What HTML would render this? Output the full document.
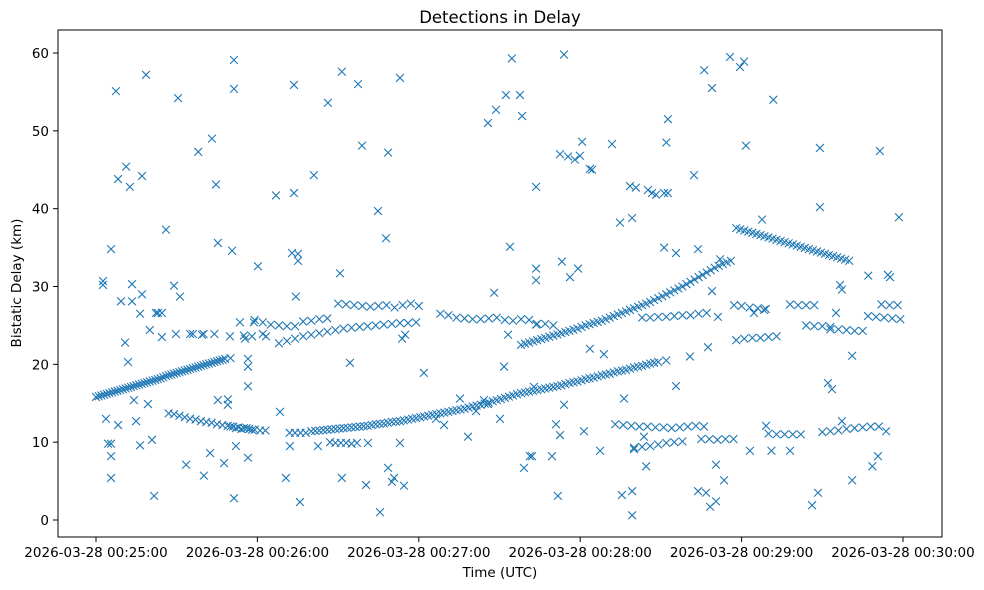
<!DOCTYPE html>
<html><head><meta charset="utf-8"><title>Detections in Delay</title>
<style>
html,body{margin:0;padding:0;background:#fff;}
svg{display:block;font-family:"DejaVu Sans","Liberation Sans",sans-serif;}
</style></head>
<body>
<svg id="chart" width="984" height="590" viewBox="0 0 984 590" xmlns="http://www.w3.org/2000/svg">
<rect x="0" y="0" width="984" height="590" fill="#fff"/>
<text x="500" y="23" font-size="16.5" text-anchor="middle" fill="#000">Detections in Delay</text>
<g id="points"></g>
<rect x="58" y="30" width="884" height="507" fill="none" stroke="#000" stroke-width="1"/>
<g id="xaxis"></g>
<g id="yaxis"></g>
<text x="500" y="577" font-size="13.5" text-anchor="middle">Time (UTC)</text>
<text transform="translate(21,283) rotate(-90)" font-size="13.5" text-anchor="middle">Bistatic Delay (km)</text>
</svg>
<script>
// seconds after 2026-03-28 00:25:00 and delay in km
const xTickSeconds = [0, 60, 120, 180, 240, 300];
const xTickLabels = ["2026-03-28 00:25:00","2026-03-28 00:26:00","2026-03-28 00:27:00","2026-03-28 00:28:00","2026-03-28 00:29:00","2026-03-28 00:30:00"];
const yTicks = [0, 10, 20, 30, 40, 50, 60];
const detections = [
// track A
[0,15.8],[2,16.0],[4,16.2],[6,16.4],[8,16.6],[10,16.8],[12,17.0],[14,17.2],[16,17.4],[18,17.6],[20,17.8],[22,18.0],[24,18.2],[26,18.5],[28,18.7],[30,18.9],[32,19.1],[34,19.3],[36,19.5],[38,19.7],[40,19.9],[42,20.1],[44,20.3],[46,20.5],[48,20.7],[50,20.8],
[1,15.9],[3,16.1],[5,16.3],[7,16.5],[9,16.7],[11,16.9],[13,17.1],[15,17.3],[17,17.5],[19,17.7],[21,17.9],[23,18.1],[25,18.35],[27,18.6],[29,18.8],[31,19.0],[33,19.2],[35,19.4],[37,19.6],[39,19.8],[41,20.0],[43,20.2],[45,20.4],[47,20.6],
// track B
[27,13.7],[29,13.6],[31,13.4],[33,13.2],[35,13.0],[37,12.9],[39,12.7],[41,12.6],[43,12.5],[45,12.3],[47,12.2],[49,12.1],[51,12.0],[53,11.9],[55,11.8],[57,11.7],[59,11.6],[61,11.5],[63,11.5],
// track C
[80,11.4],[83,11.5],[86,11.6],[89,11.7],[92,11.8],[95,11.9],[98,12.0],[101,12.1],[104,12.3],[107,12.4],[110,12.6],[113,12.7],[116,12.9],[119,13.1],[122,13.3],[125,13.5],[128,13.7],[131,13.9],[134,14.1],[137,14.3],[140,14.6],[143,14.8],[146,15.1],[149,15.4],[152,15.7],[155,16.0],[158,16.3],[161,16.5],[164,16.7],[167,16.9],[170,17.1],[173,17.3],[176,17.6],[179,17.8],[182,18.1],[185,18.3],[188,18.6],[191,18.8],[194,19.1],[197,19.3],[200,19.6],[203,19.8],[206,20.1],[209,20.3],[212,20.5],
[81.5,11.45],[84.5,11.55],[87.5,11.65],[90.5,11.75],[93.5,11.85],[96.5,11.95],[99.5,12.05],[102.5,12.2],[105.5,12.35],[108.5,12.5],[111.5,12.65],[114.5,12.8],[117.5,13.0],[120.5,13.2],[123.5,13.4],[126.5,13.6],[129.5,13.8],[132.5,14.0],[135.5,14.2],[138.5,14.45],[141.5,14.7],[144.5,14.95],[147.5,15.25],[150.5,15.55],[153.5,15.85],[156.5,16.15],[159.5,16.4],[162.5,16.6],[165.5,16.8],[168.5,17.0],[171.5,17.2],[174.5,17.45],[177.5,17.7],[180.5,17.95],[183.5,18.2],[186.5,18.45],[189.5,18.7],[192.5,18.95],[195.5,19.2],[198.5,19.45],[201.5,19.7],[204.5,19.95],[207.5,20.2],
// track D
[158,22.5],[161,22.8],[164,23.1],[167,23.4],[170,23.7],[173,24.0],[176,24.3],[179,24.6],[182,25.0],[185,25.3],[188,25.6],[191,26.0],[194,26.4],[197,26.8],[200,27.2],[203,27.6],[206,28.0],[209,28.5],[212,29.0],[215,29.5],[218,30.0],[221,30.6],[224,31.2],[227,31.8],[230,32.4],[233,32.9],[236,33.3],
[159.5,22.65],[162.5,22.95],[165.5,23.25],[168.5,23.55],[171.5,23.85],[174.5,24.15],[177.5,24.45],[180.5,24.8],[183.5,25.15],[186.5,25.45],[189.5,25.8],[192.5,26.2],[195.5,26.6],[198.5,27.0],[201.5,27.4],[204.5,27.8],[207.5,28.25],[210.5,28.75],[213.5,29.25],[216.5,29.75],[219.5,30.3],[222.5,30.9],[225.5,31.5],[228.5,32.1],[231.5,32.65],[234.5,33.1],
// track E
[238,37.5],[241,37.2],[244,36.9],[247,36.6],[250,36.3],[253,36.0],[256,35.7],[259,35.4],[262,35.1],[265,34.8],[268,34.5],[271,34.2],[274,33.9],[277,33.6],[280,33.3],
[239.5,37.35],[242.5,37.05],[245.5,36.75],[248.5,36.45],[251.5,36.15],[254.5,35.85],[257.5,35.55],[260.5,35.25],[263.5,34.95],[266.5,34.65],[269.5,34.35],[272.5,34.05],[275.5,33.75],[278.5,33.45],
// track F
[68,22.7],[71,23.0],[74,23.3],[77,23.6],[80,23.8],[83,24.0],[86,24.2],[89,24.4],[92,24.6],[95,24.7],[98,24.8],[101,24.9],[104,25.0],[107,25.1],[110,25.2],[113,25.3],[116,25.3],[119,25.4],
// bands
[90,27.8],[93,27.7],[96,27.6],[99,27.5],[102,27.4],[105,27.5],[108,27.6],[111,27.3],[114,27.6],[117,27.8],[120,27.5],
[128,26.5],[131,26.3],[134,26.0],[137,25.9],[140,25.8],[143,25.8],[146,25.9],[149,26.0],[152,25.7],[155,25.6],[158,25.8],[161,25.7],[164,25.2],[167,25.2],[170,25.0],
[59,25.7],[62,25.4],[65,25.1],[68,25.0],[71,24.9],[74,24.9],[77,25.5],[80,25.6],[83,25.8],[86,25.9],
[87,10.0],[89,9.9],[91,9.9],[93,9.9],[95,9.8],[97,9.9],
[72,11.2],[74,11.2],[76,11.2],[78,11.2],
[50,12.0],[52,11.8],[54,11.7],[56,11.8],[58,11.6],
[36,23.9],[40,23.9],[44,23.9],[55,23.7],[58,23.6],[62,23.9],
[193,12.3],[196,12.2],[199,12.1],[202,12.0],[205,12.0],[208,11.9],[211,11.9],[214,11.8],[217,11.9],[220,12.0],[223,12.1],[226,12.0],
[225,10.4],[228,10.4],[231,10.3],[234,10.4],[237,10.4],
[200,9.3],[203,9.4],[206,9.5],[209,9.7],[212,9.9],[215,10.0],[218,10.1],
[203,26.0],[206,26.0],[209,26.1],[212,26.1],[215,26.2],[218,26.3],[221,26.3],[224,26.5],[227,26.6],
[238,23.1],[241,23.3],[244,23.4],[247,23.4],[250,23.5],[253,23.6],
[250,11.1],[253,11.0],[256,11.0],[259,11.0],[262,11.0],
[270,11.3],[273,11.4],[276,11.5],[279,11.7],[282,11.8],[285,11.9],[288,12.0],[291,12.0],
[258,27.7],[261,27.6],[264,27.6],[267,27.6],
[264,25.0],[267,24.9],[270,24.9],[273,24.8],
[273,24.5],[276,24.5],[279,24.4],[282,24.3],[285,24.3],
[287,26.2],[290,26.1],[293,26.0],[296,25.9],[299,25.8],
[292,27.7],[295,27.6],[298,27.6],
[240,27.5],[243,27.3],[246,27.2],[249,27.1],
// scattered
[2.6,30.2],[2.6,30.7],[3.7,13],[4.5,9.8],[5.6,9.8],[5.6,8.2],[5.6,5.4],[5.6,34.8],[7.4,55.1],[8.2,43.8],[8.2,12.2],[9.3,28.1],[10.8,22.8],[11.2,45.4],[11.9,20.3],[12.6,42.8],[13.4,30.3],[13.4,28.1],[14.1,15.4],[14.9,12.7],[16.4,26.5],[17.1,44.2],[17.1,29],[16.4,9.6],[18.6,57.2],[19.3,14.9],[20,24.4],[20.8,10.3],[21.6,3.1],[22.3,26.6],[23,26.6],[24.5,26.6],[24.5,23.5],[26,37.3],[29,30.1],[29.7,23.9],[30.5,54.2],[31.2,28.7],[33.5,7.1],[35,23.9],[38,47.3],[40.1,5.7],[39.4,23.8],[42.4,8.6],[43.1,49],[44.6,43.1],[45.3,35.6],[45.3,15.4],[47.6,7.3],[49,15.5],[49,14.8],[49.8,23.6],[50.6,34.6],[51.3,55.4],[51.3,59.1],[51.3,2.8],[52,9.5],[53.5,25.4],[55.4,23.3],[56.5,20.7],[56.5,19.7],[56.5,17.2],[56.5,8],[58.7,25.4],[60.2,32.6],[63.2,23.6],[66.9,41.7],[68.4,13.9],[70.6,5.4],[72.1,9.5],[72.9,34.3],[73.6,42],[73.6,55.9],[74.3,28.7],[75.1,34.2],[75.1,33.3],[75.8,2.3],[81,44.3],[82.5,9.5],[86.2,53.6],[90.7,31.7],[91.4,57.6],[91.4,5.4],[94.4,20.2],[97.4,56],[98.9,48.1],[100.4,4.5],[101.1,9.9],[104.8,39.7],[107.8,36.2],[108.6,47.2],[108.6,6.7],[110,4.9],[110.8,5.4],[113,56.8],[113,9.9],[114.5,4.4],[113.8,23.3],[114.9,23.8],[105.6,1.0],[121.9,18.9],[126.4,13],[129.4,12.2],[135.3,15.6],[138.3,10.7],[141.3,14],[144.2,15.4],[145.7,14.9],[145.7,51],[148,29.2],[148.7,52.7],[150.2,13],[151.7,19.7],[152.4,54.6],[153.2,23.8],[153.9,35.1],[154.6,59.3],[157.6,54.6],[158.4,51.9],[159.1,6.7],[161.3,8.2],[162.1,8.2],[162.8,17.1],[163.6,25.1],[163.6,32.3],[163.6,42.8],[163.6,30.8],[169.5,8.2],[171,12.3],[171.7,3.1],[172.5,10.9],[172.5,47],[173.2,33.2],[174,14.8],[174,59.8],[175.5,46.7],[176.2,31.2],[178,46.3],[179.2,32.3],[179.9,46.8],[180.7,48.6],[181.4,11.4],[183.6,45.1],[184.4,45],[183.6,22],[187.4,8.9],[188.8,21.3],[191.8,48.3],[194.8,38.2],[195.5,3.2],[196.3,15.6],[198.5,42.9],[199.3,38.8],[199.3,0.6],[199.3,3.7],[200,9.1],[200.7,42.7],[203.7,10.7],[204.5,6.9],[205.2,42.4],[206.7,42],[208.2,41.8],[211.2,42],[211.2,35],[212,48.5],[212.6,51.5],[212.6,42],[215.6,17.2],[215.6,34.3],[220.8,21],[222.3,44.3],[223.8,3.7],[223.8,34.8],[226.1,57.8],[226.8,3.5],[227.5,22.2],[228.3,1.7],[229,55.5],[229,29.4],[230.5,7.1],[230.5,2.4],[231.2,26.1],[232,33.5],[233.5,5.1],[235.7,59.5],[237.2,27.6],[239.4,58.2],[240.9,58.9],[241.6,48.1],[243.1,8.9],[244.6,26.6],[247.6,38.6],[248.3,27],[249.1,12.1],[251.8,54],[251.1,8.9],[258,8.9],[266.2,1.9],[268.4,3.5],[269.1,47.8],[269.1,40.2],[272.1,17.6],[273.6,16.8],[275.1,26.6],[277.3,12.7],[281.1,21.1],[281.1,5.1],[287.1,31.4],[288.6,6.9],[290.7,8.2],[291.4,47.4],[294.4,31.5],[295.2,31.2],[293.7,11.4],[298.5,38.9],[276.6,30.2],[277.3,29.6]
];

const NS = "http://www.w3.org/2000/svg";
function xScale(t){ return 96 + (t/300)*(903-96); }
function yScale(d){ return 520 - (d/60)*(520-53); }

const pts = document.getElementById('points');
detections.forEach(function(p){
  const x = xScale(p[0]), y = yScale(p[1]), r = 3.9;
  const path = document.createElementNS(NS,'path');
  path.setAttribute('d','M'+(x-r)+' '+(y-r)+'L'+(x+r)+' '+(y+r)+'M'+(x-r)+' '+(y+r)+'L'+(x+r)+' '+(y-r));
  path.setAttribute('stroke','#1f77b4');
  path.setAttribute('stroke-width','1.1');
  path.setAttribute('fill','none');
  
  
  pts.appendChild(path);
});

const xa = document.getElementById('xaxis');
xTickSeconds.forEach(function(t,i){
  const x = xScale(t);
  const ln = document.createElementNS(NS,'line');
  ln.setAttribute('x1',x);ln.setAttribute('x2',x);ln.setAttribute('y1',537);ln.setAttribute('y2',542);
  ln.setAttribute('stroke','#000');
  
  
  xa.appendChild(ln);
  const tx = document.createElementNS(NS,'text');
  tx.setAttribute('x',x);tx.setAttribute('y',557);tx.setAttribute('font-size','13.5');tx.setAttribute('text-anchor','middle');
  tx.textContent = xTickLabels[i];
  
  
  xa.appendChild(tx);
});

const ya = document.getElementById('yaxis');
yTicks.forEach(function(v){
  const y = yScale(v);
  const ln = document.createElementNS(NS,'line');
  ln.setAttribute('x1',53);ln.setAttribute('x2',58);ln.setAttribute('y1',y);ln.setAttribute('y2',y);
  ln.setAttribute('stroke','#000');
  
  
  ya.appendChild(ln);
  const tx = document.createElementNS(NS,'text');
  tx.setAttribute('x',49);tx.setAttribute('y',y+5);tx.setAttribute('font-size','13.5');tx.setAttribute('text-anchor','end');
  tx.textContent = String(v);
  
  
  ya.appendChild(tx);
});
</script>
</body></html>
